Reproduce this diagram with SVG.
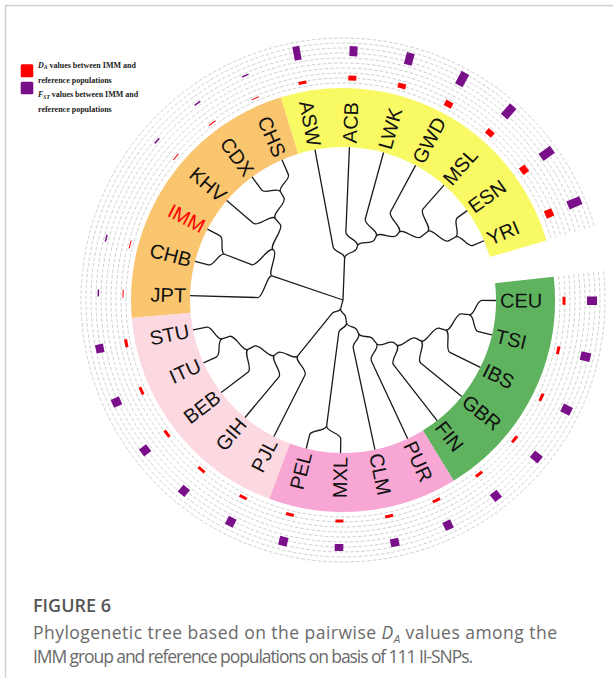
<svg xmlns="http://www.w3.org/2000/svg" width="613" height="682" viewBox="0 0 613 682">
<style>
.lab{font-family:"Liberation Sans",Arial,sans-serif;font-size:20px;fill:#111}
.fl{text-anchor:end}
.ring{fill:none;stroke:#c4c4c4;stroke-width:0.8;stroke-dasharray:3.5 2}
.br path{fill:none;stroke:#1a1a1a;stroke-width:1.3}
.da{fill:#ff0000}
.fst{fill:#7a0f8a}
.lg{font-family:"Liberation Serif","Times New Roman",serif;font-size:8px;font-weight:bold;fill:#222}
.cap{font-family:"Open Sans","Noto Sans",sans-serif}
</style>
<rect width="613" height="682" fill="#fff"/>
<path d="M5.5 678 V5.5 H613" fill="none" stroke="#cfcfcf" stroke-width="1.5"/>

<g id="legend">
<rect x="20.7" y="64.3" width="12.6" height="13" rx="1.5" fill="#ff0000"/>
<rect x="20.7" y="81.7" width="12.6" height="12.6" rx="1.5" fill="#7a0f8a"/>
<text class="lg" x="38" y="67.5"><tspan font-style="italic">D</tspan><tspan font-style="italic" font-size="5.5" dy="1.5">A</tspan><tspan dy="-1.5"> values between IMM and</tspan></text>
<text class="lg" x="38" y="83">reference populations</text>
<text class="lg" x="38" y="97"><tspan font-style="italic">F</tspan><tspan font-style="italic" font-size="5.5" dy="1.5">ST</tspan><tspan dy="-1.5"> values between IMM and</tspan></text>
<text class="lg" x="38" y="112">reference populations</text>
</g>

<g transform="translate(343 300)">
<g id="bands" fill="none" stroke-width="59">
<circle r="182.5" pathLength="360" stroke="#5fb35f" stroke-dasharray="64.815 400" transform="rotate(-6.3)"/>
<circle r="182.5" pathLength="360" stroke="#f8a6d3" stroke-dasharray="51.852 400" transform="rotate(58.515)"/>
<circle r="182.5" pathLength="360" stroke="#fcd8e0" stroke-dasharray="64.815 400" transform="rotate(110.367)"/>
<circle r="182.5" pathLength="360" stroke="#f9c56e" stroke-dasharray="77.778 400" transform="rotate(175.182)"/>
<circle r="182.5" pathLength="360" stroke="#f9f964" stroke-dasharray="90.741 400" transform="rotate(252.96)"/>
</g>

<g id="rings" transform="rotate(-6.3)">
<path class="ring" d="M217 0A217 217 0 1 1 213.66 -37.95"/>
<path class="ring" d="M222 0A222 222 0 1 1 218.58 -38.83"/>
<path class="ring" d="M227 0A227 227 0 1 1 223.5 -39.7"/>
<path class="ring" d="M232 0A232 232 0 1 1 228.42 -40.58"/>
<path class="ring" d="M237 0A237 237 0 1 1 233.35 -41.45"/>
<path class="ring" d="M242 0A242 242 0 1 1 238.27 -42.33"/>
<path class="ring" d="M247 0A247 247 0 1 1 243.19 -43.2"/>
<path class="ring" d="M252 0A252 252 0 1 1 248.12 -44.07"/>
<path class="ring" d="M257 0A257 257 0 1 1 253.04 -44.95"/>
<path class="ring" d="M262 0A262 262 0 1 1 257.96 -45.82"/>
</g>

<g id="connectors" class="br">
<path transform="rotate(0.18)" d="M153 0L139 0C133 0 132.15 15.01 126.19 14.33"/>
<path transform="rotate(13.14)" d="M153 0L139 0C133 0 132.15 -15.01 126.19 -14.33"/>
<path transform="rotate(6.66)" d="M127 0L119 0C113 0 111.38 19.08 105.46 18.07"/>
<path transform="rotate(26.11)" d="M153 0L119 0C113 0 111.38 -19.08 105.46 -18.07"/>
<path transform="rotate(16.39)" d="M107 0L100 0C94 0 92.17 18.48 86.28 17.3"/>
<path transform="rotate(39.07)" d="M153 0L100 0C94 0 92.17 -18.48 86.28 -17.3"/>
<path transform="rotate(27.73)" d="M88 0L82 0C76 0 74.3 16 68.43 14.73"/>
<path transform="rotate(52.03)" d="M153 0L82 0C76 0 74.3 -16 68.43 -14.73"/>
<path transform="rotate(39.88)" d="M70 0L67 0C61 0 59.54 13.27 53.68 11.96"/>
<path transform="rotate(65)" d="M153 0L67 0C61 0 59.54 -13.27 53.68 -11.96"/>
<path transform="rotate(52.44)" d="M55 0L49 0C43 0 41.94 9.5 36.09 8.17"/>
<path transform="rotate(77.96)" d="M153 0L49 0C43 0 41.94 -9.5 36.09 -8.17"/>
<path transform="rotate(65.2)" d="M37 0L33 0C28 0 26.9 7.76 22.1 6.38"/>
<path transform="rotate(97.4)" d="M127 0L33 0C28 0 26.9 -7.76 22.1 -6.38"/>
<path transform="rotate(90.92)" d="M153 0L139 0C133 0 132.15 15.01 126.19 14.33"/>
<path transform="rotate(103.89)" d="M153 0L139 0C133 0 132.15 -15.01 126.19 -14.33"/>
<path transform="rotate(81.3)" d="M23 0L17 0C13 0 11.89 5.26 8.23 3.64"/>
<path transform="rotate(129)" d="M72 0L17 0C13 0 11.89 -5.26 8.23 -3.64"/>
<path transform="rotate(105.15)" d="M9 0L0 0"/>
<path transform="rotate(116.85)" d="M153 0L84 0C78 0 76.25 16.42 70.39 15.15"/>
<path transform="rotate(141.15)" d="M88 0L84 0C78 0 76.25 -16.42 70.39 -15.15"/>
<path transform="rotate(129.81)" d="M153 0L100 0C94 0 92.17 18.48 86.28 17.3"/>
<path transform="rotate(152.5)" d="M107 0L100 0C94 0 92.17 -18.48 86.28 -17.3"/>
<path transform="rotate(142.78)" d="M153 0L119 0C113 0 111.38 19.08 105.46 18.07"/>
<path transform="rotate(162.22)" d="M127 0L119 0C113 0 111.38 -19.08 105.46 -18.07"/>
<path transform="rotate(155.74)" d="M153 0L139 0C133 0 132.15 15.01 126.19 14.33"/>
<path transform="rotate(168.7)" d="M153 0L139 0C133 0 132.15 -15.01 126.19 -14.33"/>
<path transform="rotate(181.66)" d="M153 0L85 0C80 0 76.5 23.4 71.72 21.94"/>
<path transform="rotate(215.69)" d="M86 0L85 0C80 0 76.5 -23.4 71.72 -21.94"/>
<path transform="rotate(201.11)" d="M127 0L98 0C92 0 89.04 23.16 83.23 21.65"/>
<path transform="rotate(230.27)" d="M106 0L98 0C92 0 89.04 -23.16 83.23 -21.65"/>
<path transform="rotate(194.63)" d="M153 0L139 0C133 0 132.15 15.01 126.19 14.33"/>
<path transform="rotate(207.59)" d="M153 0L139 0C133 0 132.15 -15.01 126.19 -14.33"/>
<path transform="rotate(220.55)" d="M153 0L118 0C112 0 110.39 18.91 104.48 17.9"/>
<path transform="rotate(240)" d="M125 0L118 0C112 0 110.39 -18.91 104.48 -17.9"/>
<path transform="rotate(233.52)" d="M153 0L137 0C131 0 130.16 14.78 124.2 14.11"/>
<path transform="rotate(246.48)" d="M153 0L137 0C131 0 130.16 -14.78 124.2 -14.11"/>
<path transform="rotate(198.68)" d="M75 0L0 0"/>
<path transform="rotate(324.26)" d="M153 0L141 0C135 0 134.14 15.24 128.18 14.56"/>
<path transform="rotate(337.22)" d="M153 0L141 0C135 0 134.14 -15.24 128.18 -14.56"/>
<path transform="rotate(311.3)" d="M153 0L121 0C115 0 113.35 19.42 107.43 18.4"/>
<path transform="rotate(330.74)" d="M129 0L121 0C115 0 113.35 -19.42 107.43 -18.4"/>
<path transform="rotate(298.33)" d="M153 0L100 0C94 0 92.17 18.48 86.28 17.3"/>
<path transform="rotate(321.02)" d="M109 0L100 0C94 0 92.17 -18.48 86.28 -17.3"/>
<path transform="rotate(285.37)" d="M153 0L84 0C78 0 76.25 16.42 70.39 15.15"/>
<path transform="rotate(309.67)" d="M88 0L84 0C78 0 76.25 -16.42 70.39 -15.15"/>
<path transform="rotate(272.41)" d="M153 0L68 0C62 0 60.52 13.48 54.66 12.18"/>
<path transform="rotate(297.52)" d="M72 0L68 0C62 0 60.52 -13.48 54.66 -12.18"/>
<path transform="rotate(259.44)" d="M153 0L54 0C48 0 46.81 10.6 40.96 9.28"/>
<path transform="rotate(284.97)" d="M56 0L54 0C48 0 46.81 -10.6 40.96 -9.28"/>
<path transform="rotate(272.2)" d="M42 0L0 0"/>
</g>

<g id="n-CEU" transform="rotate(0.18)"><text class="lab" x="157" dy="0.35em">CEU</text><rect class="da" x="219.5" y="-4" width="3" height="8"/><rect class="fst" x="244" y="-4.3" width="10" height="8.6"/></g>
<g id="n-TSI" transform="rotate(13.14)"><text class="lab" x="157" dy="0.35em">TSI</text><rect class="da" x="219.5" y="-4" width="3" height="8"/><rect class="fst" x="244" y="-4.3" width="10" height="8.6"/></g>
<g id="n-IBS" transform="rotate(26.11)"><text class="lab" x="157" dy="0.35em">IBS</text><rect class="da" x="219.5" y="-4" width="3" height="8"/><rect class="fst" x="244" y="-4.3" width="10" height="8.6"/></g>
<g id="n-GBR" transform="rotate(39.07)"><text class="lab" x="157" dy="0.35em">GBR</text><rect class="da" x="219.5" y="-4" width="3" height="8"/><rect class="fst" x="244" y="-4.3" width="10" height="8.6"/></g>
<g id="n-FIN" transform="rotate(52.03)"><text class="lab" x="157" dy="0.35em">FIN</text><rect class="da" x="219.5" y="-4" width="3" height="8"/><rect class="fst" x="244" y="-4.3" width="9" height="8.6"/></g>
<g id="n-PUR" transform="rotate(65)"><text class="lab" x="157" dy="0.35em">PUR</text><rect class="da" x="219.5" y="-4" width="3" height="8"/><rect class="fst" x="244" y="-4.3" width="9" height="8.6"/></g>
<g id="n-CLM" transform="rotate(77.96)"><text class="lab" x="157" dy="0.35em">CLM</text><rect class="da" x="219.5" y="-4" width="3" height="8"/><rect class="fst" x="244" y="-4.3" width="8" height="8.6"/></g>
<g id="n-MXL" transform="rotate(90.92)"><text class="lab fl" transform="translate(157 0) rotate(180)" dy="0.35em">MXL</text><rect class="da" x="219.5" y="-4" width="3" height="8"/><rect class="fst" x="244" y="-4.3" width="7" height="8.6"/></g>
<g id="n-PEL" transform="rotate(103.89)"><text class="lab fl" transform="translate(157 0) rotate(180)" dy="0.35em">PEL</text><rect class="da" x="219.5" y="-4" width="3" height="8"/><rect class="fst" x="244" y="-4.3" width="9" height="8.6"/></g>
<g id="n-PJL" transform="rotate(116.85)"><text class="lab fl" transform="translate(157 0) rotate(180)" dy="0.35em">PJL</text><rect class="da" x="219.5" y="-4" width="3" height="8"/><rect class="fst" x="244" y="-4.3" width="9" height="8.6"/></g>
<g id="n-GIH" transform="rotate(129.81)"><text class="lab fl" transform="translate(157 0) rotate(180)" dy="0.35em">GIH</text><rect class="da" x="219.5" y="-4" width="3" height="8"/><rect class="fst" x="244" y="-4.3" width="9" height="8.6"/></g>
<g id="n-BEB" transform="rotate(142.78)"><text class="lab fl" transform="translate(157 0) rotate(180)" dy="0.35em">BEB</text><rect class="da" x="219.5" y="-4" width="3" height="8"/><rect class="fst" x="244" y="-4.3" width="9" height="8.6"/></g>
<g id="n-ITU" transform="rotate(155.74)"><text class="lab fl" transform="translate(157 0) rotate(180)" dy="0.35em">ITU</text><rect class="da" x="219.5" y="-4" width="3" height="8"/><rect class="fst" x="244" y="-4.3" width="9" height="8.6"/></g>
<g id="n-STU" transform="rotate(168.7)"><text class="lab fl" transform="translate(157 0) rotate(180)" dy="0.35em">STU</text><rect class="da" x="219.5" y="-4" width="3" height="8"/><rect class="fst" x="244" y="-4.3" width="8" height="8.6"/></g>
<g id="n-JPT" transform="rotate(181.66)"><text class="lab fl" transform="translate(157 0) rotate(180)" dy="0.35em">JPT</text><rect class="da" x="219.5" y="-4" width="1" height="8"/><rect class="fst" x="244" y="-3.5" width="1.5" height="7"/></g>
<g id="n-CHB" transform="rotate(194.63)"><text class="lab fl" transform="translate(157 0) rotate(180)" dy="0.35em">CHB</text><rect class="da" x="219.5" y="-4" width="1" height="8"/><rect class="fst" x="244" y="-3.5" width="1.5" height="7"/></g>
<g id="n-IMM" transform="rotate(207.59)"><text class="lab fl" transform="translate(157 0) rotate(180)" dy="0.35em" style="fill:#ff0000">IMM</text></g>
<g id="n-KHV" transform="rotate(220.55)"><text class="lab fl" transform="translate(157 0) rotate(180)" dy="0.35em">KHV</text><rect class="da" x="219.5" y="-4" width="1" height="8"/><rect class="fst" x="244" y="-3.5" width="1.5" height="7"/></g>
<g id="n-CDX" transform="rotate(233.52)"><text class="lab fl" transform="translate(157 0) rotate(180)" dy="0.35em">CDX</text><rect class="da" x="219.5" y="-4" width="1" height="8"/><rect class="fst" x="244" y="-3.5" width="1.5" height="7"/></g>
<g id="n-CHS" transform="rotate(246.48)"><text class="lab fl" transform="translate(157 0) rotate(180)" dy="0.35em">CHS</text><rect class="da" x="219.5" y="-4" width="1" height="8"/><rect class="fst" x="244" y="-3.5" width="1.5" height="7"/></g>
<g id="n-ASW" transform="rotate(259.44)"><text class="lab fl" transform="translate(157 0) rotate(180)" dy="0.35em">ASW</text><rect class="da" x="219.5" y="-4" width="3" height="8"/><rect class="fst" x="244" y="-3.5" width="14" height="7"/></g>
<g id="n-ACB" transform="rotate(272.41)"><text class="lab" x="157" dy="0.35em">ACB</text><rect class="da" x="219.5" y="-4" width="5" height="8"/><rect class="fst" x="244" y="-4" width="10" height="8"/></g>
<g id="n-LWK" transform="rotate(285.37)"><text class="lab" x="157" dy="0.35em">LWK</text><rect class="da" x="219.5" y="-4" width="5" height="8"/><rect class="fst" x="244" y="-4" width="12" height="8"/></g>
<g id="n-GWD" transform="rotate(298.33)"><text class="lab" x="157" dy="0.35em">GWD</text><rect class="da" x="219.5" y="-4" width="6" height="8"/><rect class="fst" x="244" y="-4.3" width="14" height="8.6"/></g>
<g id="n-MSL" transform="rotate(311.3)"><text class="lab" x="157" dy="0.35em">MSL</text><rect class="da" x="219.5" y="-4" width="6" height="8"/><rect class="fst" x="244" y="-4.3" width="14" height="8.6"/></g>
<g id="n-ESN" transform="rotate(324.26)"><text class="lab" x="157" dy="0.35em">ESN</text><rect class="da" x="219.5" y="-4" width="7" height="8"/><rect class="fst" x="244" y="-4.3" width="14" height="8.6"/></g>
<g id="n-YRI" transform="rotate(337.22)"><text class="lab" x="157" dy="0.35em">YRI</text><rect class="da" x="219.5" y="-4" width="8" height="8"/><rect class="fst" x="244" y="-4.3" width="14" height="8.6"/></g>
</g>

<g id="caption" class="cap">
<text x="33" y="612" font-size="18" font-weight="600" fill="#555">FIGURE 6</text>
<text x="33" y="639" font-size="17.5" fill="#6a6a6a" textLength="524" lengthAdjust="spacing">Phylogenetic tree based on the pairwise <tspan font-style="italic">D</tspan><tspan font-style="italic" font-size="11.5" dy="3.5">A</tspan><tspan dy="-3.5"> values among the</tspan></text>
<text x="33" y="663" font-size="17.5" fill="#6a6a6a" textLength="440" lengthAdjust="spacing">IMM group and reference populations on basis of 111 II-SNPs.</text>
</g>
</svg>
